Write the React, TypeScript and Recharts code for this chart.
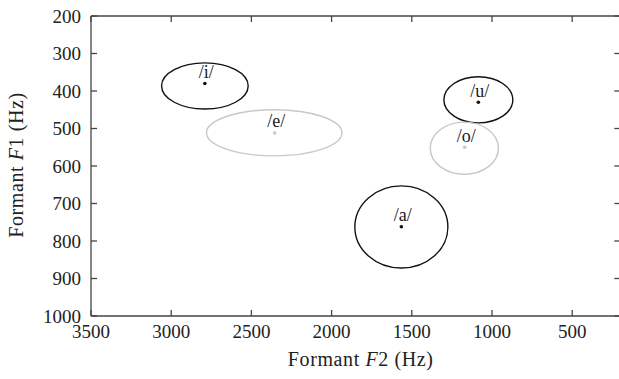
import React from 'react';
import { ScatterChart, Scatter, XAxis, YAxis, ReferenceArea, LabelList } from 'recharts';

// Vowel data (Hz)
const vowels = ['/i/', '/e/', '/u/', '/o/', '/a/'];
const f2Center = [2790, 2355, 1085, 1170, 1565];
const f1Center = [380, 512, 430, 550, 762];
// ellipse extents
const f2Low = [2520, 1935, 870, 960, 1275];
const f2High = [3060, 2780, 1300, 1385, 1855];
const f1Low = [325, 450, 362, 483, 653];
const f1High = [448, 573, 485, 622, 872];
const group = ['dark', 'light', 'dark', 'light', 'dark'];

const xTicks = [3500, 3000, 2500, 2000, 1500, 1000, 500];
const yTicks = [200, 300, 400, 500, 600, 700, 800, 900, 1000];
const xDomain = [200, 3500];
const yDomain = [200, 1000];

const FONT = '"Liberation Serif", "DejaVu Serif", serif';
const AXIS = '#454545';
const DARK = '#111111';
const LIGHT = '#c8c8c8';

const rows = vowels.map((name, i) => ({
  name,
  f2: f2Center[i],
  f1: f1Center[i],
  x1: f2Low[i],
  x2: f2High[i],
  y1: f1Low[i],
  y2: f1High[i],
  group: group[i],
}));
const darkRows = rows.filter((r) => r.group === 'dark');
const lightRows = rows.filter((r) => r.group === 'light');

const textStyle = { fontFamily: FONT };
const titleStyle = { fontFamily: FONT, letterSpacing: 0.6 };

const BottomTick = (p: any) => (
  <g>
    <line x1={p.x} x2={p.x} y1={p.y} y2={p.y - 6} stroke={AXIS} strokeWidth={1.3} />
    <text x={p.x} y={p.y + 22} textAnchor="middle" style={textStyle} fontSize={19} fill="#222">
      {p.payload.value}
    </text>
  </g>
);
const LeftTick = (p: any) => (
  <g>
    <line x1={p.x} x2={p.x + 6} y1={p.y} y2={p.y} stroke={AXIS} strokeWidth={1.3} />
    <text x={p.x - 10} y={p.y + 6.5} textAnchor="end" style={textStyle} fontSize={19} fill="#222">
      {p.payload.value}
    </text>
  </g>
);
const TopTick = (p: any) => (
  <line x1={p.x} x2={p.x} y1={p.y} y2={p.y + 6} stroke={AXIS} strokeWidth={1.3} />
);
const RightTick = (p: any) => (
  <line x1={p.x} x2={p.x - 6} y1={p.y} y2={p.y} stroke={AXIS} strokeWidth={1.3} />
);

const makeEllipse = (color: string) => (p: any) => (
  <ellipse
    cx={p.x + p.width / 2}
    cy={p.y + p.height / 2}
    rx={Math.abs(p.width) / 2}
    ry={Math.abs(p.height) / 2}
    fill="none"
    stroke={color}
    strokeWidth={1.4}
  />
);

const makeDot = (color: string) => (p: any) => <circle cx={p.cx} cy={p.cy} r={1.8} fill={color} />;
const NoDot = () => <g />;

const VowelLabel = (p: any) => (
  <text x={p.x + p.width / 2 + 1.5} y={p.y - 1} textAnchor="middle" style={textStyle} fontSize={18} fill="#1a1a1a">
    {p.value}
  </text>
);

const XTitle = (p: any) => {
  const vb = p.viewBox || {};
  const cx = vb.x + vb.width / 2 + 5;
  return (
    <text x={cx} y={366} textAnchor="middle" style={titleStyle} fontSize={20} fill="#222">
      Formant <tspan fontStyle="italic">F</tspan>2 (Hz)
    </text>
  );
};
const YTitle = (p: any) => {
  const vb = p.viewBox || {};
  const cy = vb.y + vb.height / 2 - 1;
  const x = 23;
  return (
    <text x={x} y={cy} transform={`rotate(-90, ${x}, ${cy})`} textAnchor="middle" style={titleStyle} fontSize={20} fill="#222">
      Formant <tspan fontStyle="italic">F</tspan>1 (Hz)
    </text>
  );
};

export default function App() {
  return (
    <div style={{ position: 'absolute', left: 0, top: 0, width: 619, height: 379, overflow: 'hidden', background: '#fff' }}>
      <ScatterChart width={640} height={379} margin={{ top: 10, right: 13.7, bottom: 0, left: 0 }}>
        <XAxis
          xAxisId="b"
          dataKey="f2"
          type="number"
          orientation="bottom"
          domain={xDomain}
          reversed
          ticks={xTicks}
          interval={0}
          allowDataOverflow
          height={63}
          tickSize={0}
          tickMargin={0}
          tickLine={false}
          tick={BottomTick}
          axisLine={{ stroke: AXIS, strokeWidth: 1.3 }}
          label={{ content: XTitle }}
        />
        <XAxis
          xAxisId="t"
          dataKey="f2"
          type="number"
          orientation="top"
          domain={xDomain}
          reversed
          ticks={xTicks}
          interval={0}
          allowDataOverflow
          height={6}
          tickSize={0}
          tickMargin={0}
          tickLine={false}
          tick={TopTick}
          axisLine={{ stroke: AXIS, strokeWidth: 1.3 }}
        />
        <YAxis
          yAxisId="l"
          dataKey="f1"
          type="number"
          orientation="left"
          domain={yDomain}
          reversed
          ticks={yTicks}
          interval={0}
          allowDataOverflow
          width={91}
          tickSize={0}
          tickMargin={0}
          tickLine={false}
          tick={LeftTick}
          axisLine={{ stroke: AXIS, strokeWidth: 1.3 }}
          label={{ content: YTitle }}
        />
        <YAxis
          yAxisId="r"
          dataKey="f1"
          type="number"
          orientation="right"
          domain={yDomain}
          reversed
          ticks={yTicks}
          interval={0}
          allowDataOverflow
          width={6}
          tickSize={0}
          tickMargin={0}
          tickLine={false}
          tick={RightTick}
          axisLine={{ stroke: AXIS, strokeWidth: 1.3 }}
        />
        {rows.map((r) => (
          <ReferenceArea
            key={r.name}
            xAxisId="b"
            yAxisId="l"
            x1={r.x1}
            x2={r.x2}
            y1={r.y1}
            y2={r.y2}
            ifOverflow="visible"
            shape={makeEllipse(r.group === 'dark' ? DARK : LIGHT)}
          />
        ))}
        <Scatter
          xAxisId="t"
          yAxisId="r"
          data={rows}
          dataKey="f1"
          shape={NoDot}
          legendType="none"
          isAnimationActive={false}
        />
        <Scatter
          xAxisId="b"
          yAxisId="l"
          data={lightRows}
          dataKey="f1"
          shape={makeDot(LIGHT)}
          isAnimationActive={false}
        >
          <LabelList dataKey="name" content={VowelLabel} />
        </Scatter>
        <Scatter
          xAxisId="b"
          yAxisId="l"
          data={darkRows}
          dataKey="f1"
          shape={makeDot(DARK)}
          isAnimationActive={false}
        >
          <LabelList dataKey="name" content={VowelLabel} />
        </Scatter>
      </ScatterChart>
    </div>
  );
}
